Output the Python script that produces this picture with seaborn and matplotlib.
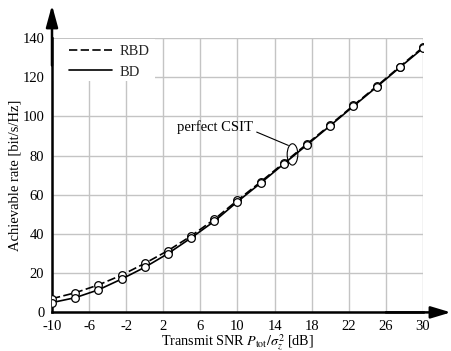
import matplotlib
matplotlib.use("Agg")
import matplotlib.pyplot as plt
import seaborn as sns
import pandas as pd
from matplotlib.patches import Ellipse, Rectangle
from matplotlib.lines import Line2D

# Transmit SNR in dB and achievable sum rates in bit/s/Hz
snr_db = [-10, -7.5, -5, -2.5, 0, 2.5, 5, 7.5, 10, 12.5, 15, 17.5, 20, 22.5, 25, 27.5, 30]
rate_rbd = [7, 10, 14, 19, 25, 31.5, 39, 47.5, 57.2, 66.6, 76.3, 86, 95.7, 105.6, 115.4, 125.4, 135.3]
rate_bd = [5, 7.5, 11.5, 17, 23, 30, 38, 46.5, 56.5, 66, 75.8, 85.5, 95.3, 105.2, 115, 125, 134.8]

x_ticks = [-10, -6, -2, 2, 6, 10, 14, 18, 22, 26, 30]
y_ticks = [0, 20, 40, 60, 80, 100, 120, 140]
scheme_labels = ["RBD", "BD"]

sns.set_theme(style="whitegrid")
plt.rcParams["font.family"] = ["Liberation Serif", "DejaVu Serif"]
plt.rcParams["mathtext.fontset"] = "stix"

FS = 10.5

df = pd.DataFrame({
    "snr": snr_db * 2,
    "rate": rate_rbd + rate_bd,
    "scheme": ["RBD"] * len(snr_db) + ["BD"] * len(snr_db),
})

fig = plt.figure(figsize=(4.51, 3.51), dpi=100)
ax = fig.add_axes([0.1153, 0.1100, 0.8226, 0.7817])
ax.set_facecolor("white")

styles = {"RBD": (5, 2), "BD": ""}
for name in scheme_labels:
    sub = df[df["scheme"] == name]
    sns.lineplot(data=sub, x="snr", y="rate", ax=ax, color="black", lw=1.2,
                 marker="o", markersize=5.5, markerfacecolor="white",
                 markeredgecolor="black", markeredgewidth=0.9,
                 dashes=False, legend=False, zorder=3)
    line = ax.lines[-1]
    if styles[name]:
        line.set_dashes(styles[name])

ax.set_xlim(-10, 30)
ax.set_ylim(0, 140)
ax.set_xticks(x_ticks)
ax.set_yticks(y_ticks)
ax.set_xticklabels([str(t) for t in x_ticks])
ax.set_axisbelow(True)
ax.grid(True, color="#c4c4c4", lw=1.0)

for s in ["top", "right"]:
    ax.spines[s].set_visible(False)
for s in ["left", "bottom"]:
    ax.spines[s].set_color("black")
    ax.spines[s].set_linewidth(1.8)

ax.tick_params(axis="both", direction="out", length=3, width=1.2, color="black",
               labelsize=FS, labelcolor="black")
ax.tick_params(axis="x", pad=2.2)
ax.tick_params(axis="y", pad=2.5)

# axis arrows
ax.annotate("", xy=(0, 1.12), xytext=(0, 0.9), xycoords="axes fraction",
            arrowprops=dict(arrowstyle="-|>,head_length=1.1,head_width=0.3",
                            color="black", lw=1.8, shrinkA=0, shrinkB=0),
            annotation_clip=False)
ax.annotate("", xy=(1.075, 0), xytext=(0.9, 0), xycoords="axes fraction",
            arrowprops=dict(arrowstyle="-|>,head_length=1.0,head_width=0.3",
                            color="black", lw=1.8, shrinkA=0, shrinkB=0),
            annotation_clip=False)

ax.set_xlabel(r"Transmit SNR $P_{\mathrm{tot}}/\sigma_z^2$ [dB]", fontsize=10.2,
              color="black", labelpad=0.2)
ax.set_ylabel("Achievable rate [bit/s/Hz]", fontsize=FS, color="black", labelpad=1)

# white backing behind the legend
ax.add_patch(Rectangle((0, 0.842), 0.278, 0.153, transform=ax.transAxes,
                       facecolor="white", edgecolor="none", zorder=1))
handles = [Line2D([], [], color="black", lw=1.2, dashes=(5, 2)),
           Line2D([], [], color="black", lw=1.2)]
ax.legend(handles, scheme_labels, loc="upper left", bbox_to_anchor=(0.045, 0.975),
          frameon=False, fontsize=FS, handlelength=3.0, handletextpad=0.5,
          labelspacing=0.5, borderpad=0, borderaxespad=0)

# perfect CSIT annotation
ax.text(11.7, 94.5, "perfect CSIT", ha="right", va="center", fontsize=FS, color="black")
ax.annotate("", xy=(15.48, 85.2), xytext=(12.07, 92.0),
            arrowprops=dict(arrowstyle="-", color="black", lw=0.8, shrinkA=0, shrinkB=0))
ax.add_patch(Ellipse((15.93, 80.6), 1.15, 10.9, facecolor="none",
                     edgecolor="black", lw=0.8, zorder=4))

fig.savefig("out.png", dpi=100)
